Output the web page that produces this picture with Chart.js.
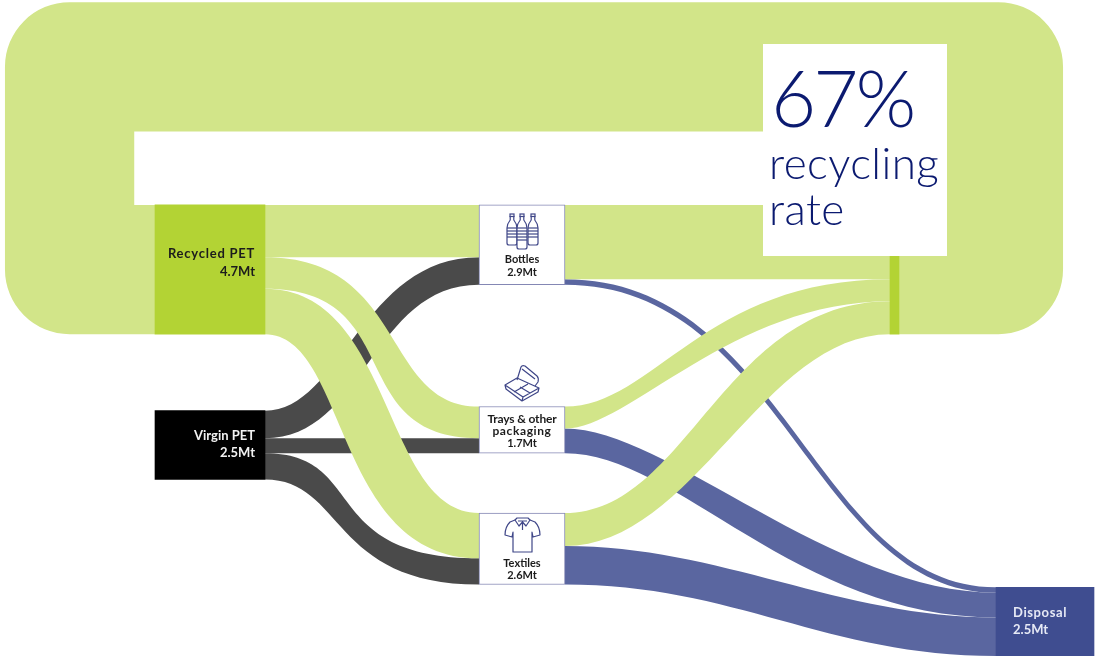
<!DOCTYPE html>
<html>
<head>
<meta charset="utf-8">
<title>PET flows</title>
<script src="https://cdn.jsdelivr.net/npm/chart.js@4"></script>
<style>
  html, body { margin: 0; padding: 0; background: #fff; }
  canvas { display: block; }
</style>
</head>
<body>
<canvas id="flows" width="1096" height="656"></canvas>
<script>
// nodes, all quantities in Mt
const nodeNames = ["Recycled PET", "Virgin PET", "Bottles", "Trays & other packaging", "Textiles", "Recycling", "Disposal"];
const nodeValues = [4.7, 2.5, 2.9, 1.7, 2.6, 4.7, 2.5];

// flows, listed in stacking order at each node
const flowSources = [0, 0, 0, 1, 1, 1, 2, 3, 4, 2, 3, 4];
const flowTargets = [2, 3, 4, 2, 3, 4, 5, 5, 5, 6, 6, 6];
const flowValues = [1.9, 1.15, 1.65, 1.0, 0.55, 0.95, 2.7, 0.8, 1.2, 0.2, 0.9, 1.4];
const flowKinds = ["green", "green", "green", "virgin", "virgin", "virgin", "green", "green", "green", "waste", "waste", "waste"];

const recyclingRate = "67%";
const recyclingRateLabel = ["recycling", "rate"];

// layout: x in canvas units, y in Mt counted down from the top edge
const yMax = 23.85;
const nodeLeft = [155, 155, 479, 479, 479, 890, 996];
const nodeWidth = [110, 110, 86, 86, 86, 9, 98];
const nodeTop = [7.45, 14.93, 7.45, 14.78, 18.65, 7.45, 21.35];
// horizontal handle lengths of each ribbon's upper and lower edge
const upperOut = [100, 142, 129, 76, 100, 103, 100, 89, 123, 220, 102, 156];
const upperIn = [100, 97, 96, 117, 100, 161, 100, 187, 167, 180, 163, 157];
const lowerOut = [100, 144, 83, 100, 100, 79, 100, 64, 129, 217, 112, 171];
const lowerIn = [100, 137, 145, 107, 100, 149, 100, 158, 127, 182, 200, 171];
const loopRight = 998.4;
const loopLeft = 69.6;
const loopTop = 2.43;

const colors = {
  green: "#d2e589",
  virgin: "#4a4a4a",
  waste: "#5a66a0",
  nodeGreen: "#b3d334",
  navy: "#0b1a70",
  icon: "#3f4688",
  label: "#1c1c1c"
};
const nodeFills = [colors.nodeGreen, "#000000", "#ffffff", "#ffffff", "#ffffff", colors.nodeGreen, "#3f4d90"];
const nodeBorders = [0, 0, 1, 1, 1, 0, 0];

function layoutFlows() {
  const outUsed = nodeNames.map(() => 0);
  const inUsed = nodeNames.map(() => 0);
  return flowValues.map((value, i) => {
    const s = flowSources[i];
    const t = flowTargets[i];
    const y0 = nodeTop[s] + outUsed[s];
    const y1 = nodeTop[t] + inUsed[t];
    outUsed[s] += value;
    inUsed[t] += value;
    return { index: i, value, y0, y1, x0: nodeLeft[s] + nodeWidth[s], x1: nodeLeft[t], kind: flowKinds[i] };
  });
}

const flowBands = {
  id: "flowBands",
  beforeDatasetsDraw(chart) {
    const { ctx } = chart;
    const px = chart.scales.x;
    const py = chart.scales.y;
    const bands = layoutFlows();

    ctx.save();
    ["waste", "virgin", "green"].forEach(kind => {
      bands.filter(b => b.kind === kind).forEach(b => {
        const i = b.index;
        const x0 = px.getPixelForValue(b.x0);
        const x1 = px.getPixelForValue(b.x1);
        const top0 = py.getPixelForValue(b.y0);
        const top1 = py.getPixelForValue(b.y1);
        const bot0 = py.getPixelForValue(b.y0 + b.value);
        const bot1 = py.getPixelForValue(b.y1 + b.value);
        ctx.beginPath();
        ctx.moveTo(x0, top0);
        ctx.bezierCurveTo(x0 + upperOut[i], top0, x1 - upperIn[i], top1, x1, top1);
        ctx.lineTo(x1, bot1);
        ctx.bezierCurveTo(x1 - lowerIn[i], bot1, x0 + lowerOut[i], bot0, x0, bot0);
        ctx.closePath();
        ctx.fillStyle = colors[kind];
        ctx.fill();
      });
    });

    // recycled material going back round to the start
    const midY = py.getPixelForValue(nodeTop[5] + nodeValues[5] / 2);
    const topY = py.getPixelForValue(loopTop);
    ctx.beginPath();
    ctx.moveTo(px.getPixelForValue(nodeLeft[5] + nodeWidth[5]), midY);
    ctx.lineTo(px.getPixelForValue(loopRight), midY);
    ctx.lineTo(px.getPixelForValue(loopRight), topY);
    ctx.lineTo(px.getPixelForValue(loopLeft), topY);
    ctx.lineTo(px.getPixelForValue(loopLeft), midY);
    ctx.lineTo(px.getPixelForValue(nodeLeft[0]), midY);
    ctx.strokeStyle = colors.green;
    ctx.lineWidth = Math.abs(py.getPixelForValue(nodeValues[5]) - py.getPixelForValue(0));
    ctx.lineJoin = "round";
    ctx.stroke();
    ctx.restore();
  }
};

function drawBottle(ctx, x, top, bottom, w) {
  const r = x + w;
  ctx.beginPath();
  ctx.moveTo(x + w * 0.32, top + 2.5);
  ctx.lineTo(x + w * 0.32, top + 6);
  ctx.quadraticCurveTo(x, top + 10, x, top + 14);
  ctx.lineTo(x, bottom - 2);
  ctx.quadraticCurveTo(x, bottom, x + 2, bottom);
  ctx.lineTo(r - 2, bottom);
  ctx.quadraticCurveTo(r, bottom, r, bottom - 2);
  ctx.lineTo(r, top + 14);
  ctx.quadraticCurveTo(r, top + 10, x + w * 0.68, top + 6);
  ctx.lineTo(x + w * 0.68, top + 2.5);
  ctx.closePath();
  ctx.fillStyle = "#fff";
  ctx.fill();
  ctx.stroke();
  ctx.strokeRect(x + w * 0.3, top, w * 0.4, 2.5);
  for (let y = top + 14; y < bottom - 6; y += 3) {
    ctx.beginPath();
    ctx.moveTo(x, y);
    ctx.lineTo(r, y);
    ctx.stroke();
  }
}

function drawBottles(ctx) {
  drawBottle(ctx, 507, 214, 245, 10);
  drawBottle(ctx, 528, 214, 245, 10);
  drawBottle(ctx, 517, 214, 249, 10);
}

function drawTray(ctx) {
  ctx.lineJoin = "round";
  // lid
  ctx.beginPath();
  ctx.moveTo(517, 380);
  ctx.lineTo(521, 367);
  ctx.quadraticCurveTo(522, 365, 525, 366);
  ctx.lineTo(537, 376);
  ctx.quadraticCurveTo(539, 378, 538, 382);
  ctx.lineTo(535, 386);
  ctx.moveTo(522, 369);
  ctx.lineTo(535, 379);
  ctx.stroke();
  // base
  ctx.beginPath();
  ctx.moveTo(505, 385);
  ctx.lineTo(517, 378);
  ctx.lineTo(539, 388);
  ctx.lineTo(523, 397);
  ctx.closePath();
  ctx.moveTo(505, 385);
  ctx.lineTo(506, 389);
  ctx.lineTo(522, 401);
  ctx.lineTo(538, 392);
  ctx.lineTo(539, 388);
  ctx.moveTo(523, 397);
  ctx.lineTo(522, 401);
  ctx.moveTo(514, 392);
  ctx.lineTo(528, 384);
  ctx.moveTo(520, 387);
  ctx.lineTo(530, 393);
  ctx.stroke();
}

function drawShirt(ctx) {
  ctx.lineJoin = "round";
  ctx.beginPath();
  ctx.moveTo(515, 520);
  ctx.lineTo(510, 522);
  ctx.quadraticCurveTo(505, 527, 505, 535);
  ctx.lineTo(512, 537);
  ctx.lineTo(513, 532);
  ctx.lineTo(513, 552);
  ctx.lineTo(532, 552);
  ctx.lineTo(532, 532);
  ctx.lineTo(533, 537);
  ctx.lineTo(540, 535);
  ctx.quadraticCurveTo(540, 527, 535, 522);
  ctx.lineTo(530, 520);
  ctx.stroke();
  // collar and placket
  ctx.beginPath();
  ctx.moveTo(515, 520);
  ctx.lineTo(517, 518);
  ctx.lineTo(528, 518);
  ctx.lineTo(530, 520);
  ctx.lineTo(526, 526);
  ctx.lineTo(522.5, 522);
  ctx.lineTo(519, 526);
  ctx.closePath();
  ctx.moveTo(522.5, 522);
  ctx.lineTo(522.5, 530);
  ctx.moveTo(518, 521);
  ctx.lineTo(527, 521);
  ctx.stroke();
}

function text(ctx, str, x, y, font, color, align, spacing) {
  ctx.font = font;
  ctx.fillStyle = color;
  ctx.textAlign = align;
  ctx.textBaseline = "alphabetic";
  ctx.letterSpacing = (spacing || 0) + "px";
  ctx.fillText(str, x, y);
}

const annotations = {
  id: "annotations",
  afterDatasetsDraw(chart) {
    const { ctx } = chart;
    const bold13 = "700 13px Lato, sans-serif";
    const bold12 = "700 12px Lato, sans-serif";
    const bold11 = "700 11px Lato, sans-serif";
    ctx.save();

    text(ctx, "Recycled PET", 255, 258, bold13, colors.label, "right", 0.75);
    text(ctx, nodeValues[0] + "Mt", 255, 276, bold13, colors.label, "right");
    text(ctx, "Virgin PET", 255, 440, bold13, "#f2f2f2", "right");
    text(ctx, nodeValues[1] + "Mt", 255, 457, bold13, "#f2f2f2", "right");

    text(ctx, "Bottles", 522, 263, bold11, colors.label, "center");
    text(ctx, nodeValues[2] + "Mt", 522, 276, bold11, colors.label, "center");
    text(ctx, "Trays & other", 522, 423, bold12, colors.label, "center", -0.15);
    text(ctx, "packaging", 522, 435, bold12, colors.label, "center", 0.6);
    text(ctx, nodeValues[3] + "Mt", 522, 447, bold11, colors.label, "center");
    text(ctx, "Textiles", 522, 567, bold11, colors.label, "center");
    text(ctx, nodeValues[4] + "Mt", 522, 579, bold11, colors.label, "center");

    text(ctx, "Disposal", 1013, 617, bold13, "#e6e9f5", "left", 0.6);
    text(ctx, nodeValues[6] + "Mt", 1013, 634, bold13, "#e6e9f5", "left");

    ctx.strokeStyle = colors.icon;
    ctx.lineWidth = 1.2;
    drawBottles(ctx);
    drawTray(ctx);
    drawShirt(ctx);

    // recycling rate callout
    ctx.fillStyle = "#fff";
    ctx.fillRect(763, 44, 184, 212);
    text(ctx, recyclingRate, 771, 127, "300 78px Lato, sans-serif", colors.navy, "left", -3);
    text(ctx, recyclingRateLabel[0], 769, 179, "300 44px Lato, sans-serif", colors.navy, "left", 0.4);
    text(ctx, recyclingRateLabel[1], 769, 225, "300 44px Lato, sans-serif", colors.navy, "left", 0.4);
    ctx.restore();
  }
};

new Chart(document.getElementById("flows").getContext("2d"), {
  type: "bar",
  data: {
    datasets: nodeNames.map((name, i) => ({
      label: name,
      data: [{ x: nodeLeft[i] + nodeWidth[i] / 2, y: [nodeTop[i], nodeTop[i] + nodeValues[i]] }],
      backgroundColor: nodeFills[i],
      borderColor: "#8487b4",
      borderWidth: nodeBorders[i],
      borderSkipped: false,
      barThickness: nodeWidth[i],
      grouped: false
    }))
  },
  options: {
    responsive: false,
    animation: false,
    layout: { padding: 0 },
    plugins: { legend: { display: false }, tooltip: { enabled: false } },
    scales: {
      x: { type: "linear", min: 0, max: 1096, offset: false, display: false },
      y: { type: "linear", min: 0, max: yMax, reverse: true, display: false }
    }
  },
  plugins: [flowBands, annotations]
});
</script>
</body>
</html>
